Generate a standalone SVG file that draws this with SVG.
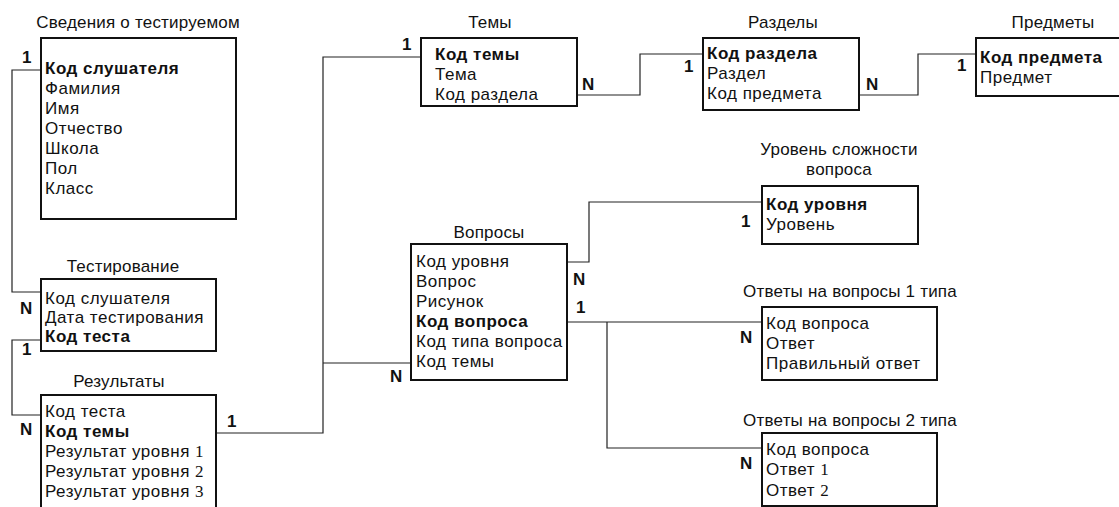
<svg xmlns="http://www.w3.org/2000/svg" width="1119" height="507" viewBox="0 0 1119 507">
<style>
.box{fill:#fff;stroke:#111;stroke-width:2}
.t{font-family:"Liberation Sans",Arial,sans-serif;font-size:17px;letter-spacing:0.5px;fill:#111}
.b{font-weight:bold}
.ttl{text-anchor:middle;letter-spacing:0.2px}
.c{fill:none;stroke:#222;stroke-width:1.2}
.card{font-family:"Liberation Sans",Arial,sans-serif;font-size:17px;font-weight:bold;fill:#111}
.sd{font-family:"Liberation Serif","Times New Roman",serif;letter-spacing:0}
</style>
<rect width="1119" height="507" fill="#fff"/>
<g id="connectors">
<polyline class="c" points="41,70 12,70 12,292 41,292"/>
<polyline class="c" points="41,340 12,340 12,415 41,415"/>
<polyline class="c" points="216,433 323,433 323,57 421,57"/>
<polyline class="c" points="323,363 411,363"/>
<polyline class="c" points="577,95 640,95 640,54 703,54"/>
<polyline class="c" points="859,95 918,95 918,54 976,54"/>
<polyline class="c" points="567,262 589,262 589,202 762,202"/>
<polyline class="c" points="567,322 762,322"/>
<polyline class="c" points="607,322 607,448 762,448"/>
<text class="card" x="22" y="63">1</text>
<text class="card" x="20" y="314">N</text>
<text class="card" x="22" y="355">1</text>
<text class="card" x="20" y="435">N</text>
<text class="card" x="227" y="427">1</text>
<text class="card" x="402" y="50">1</text>
<text class="card" x="582" y="90">N</text>
<text class="card" x="684" y="72">1</text>
<text class="card" x="866" y="90">N</text>
<text class="card" x="957" y="71">1</text>
<text class="card" x="390" y="382">N</text>
<text class="card" x="573" y="285">N</text>
<text class="card" x="576" y="313">1</text>
<text class="card" x="741" y="227">1</text>
<text class="card" x="740" y="343">N</text>
<text class="card" x="740" y="469">N</text>
</g>
<g id="svedeniya">
<text class="t ttl" x="138" y="28">Сведения о тестируемом</text>
<rect class="box" x="41" y="38" width="195" height="181"/>
<text class="t b" x="45" y="74">Код слушателя</text>
<text class="t" x="45" y="94">Фамилия</text>
<text class="t" x="45" y="114">Имя</text>
<text class="t" x="45" y="134">Отчество</text>
<text class="t" x="45" y="154">Школа</text>
<text class="t" x="45" y="174">Пол</text>
<text class="t" x="45" y="194">Класс</text>
</g>
<g id="testirovanie">
<text class="t ttl" x="123" y="272">Тестирование</text>
<rect class="box" x="41" y="279" width="175" height="72"/>
<text class="t" x="45" y="304">Код слушателя</text>
<text class="t" x="45" y="323">Дата тестирования</text>
<text class="t b" x="45" y="342">Код теста</text>
</g>
<g id="rezultaty">
<text class="t ttl" x="119" y="387">Результаты</text>
<rect class="box" x="41" y="395" width="175" height="130"/>
<text class="t" x="45" y="417">Код теста</text>
<text class="t b" x="45" y="437">Код темы</text>
<text class="t" x="45" y="457">Результат уровня <tspan class="sd">1</tspan></text>
<text class="t" x="45" y="477">Результат уровня <tspan class="sd">2</tspan></text>
<text class="t" x="45" y="497">Результат уровня <tspan class="sd">3</tspan></text>
</g>
<g id="temy">
<text class="t ttl" x="490" y="28">Темы</text>
<rect class="box" x="421" y="38" width="156" height="68"/>
<text class="t b" x="435" y="60">Код темы</text>
<text class="t" x="435" y="80">Тема</text>
<text class="t" x="435" y="100">Код раздела</text>
</g>
<g id="razdely">
<text class="t ttl" x="783" y="28">Разделы</text>
<rect class="box" x="703" y="38" width="156" height="72"/>
<text class="t b" x="707" y="59">Код раздела</text>
<text class="t" x="707" y="79">Раздел</text>
<text class="t" x="707" y="99">Код предмета</text>
</g>
<g id="predmety">
<text class="t ttl" x="1053" y="28">Предметы</text>
<rect class="box" x="976" y="38" width="160" height="58"/>
<text class="t b" x="980" y="63">Код предмета</text>
<text class="t" x="980" y="83">Предмет</text>
</g>
<g id="voprosy">
<text class="t ttl" x="489" y="238">Вопросы</text>
<rect class="box" x="411" y="244" width="156" height="136"/>
<text class="t" x="416" y="267">Код уровня</text>
<text class="t" x="416" y="287">Вопрос</text>
<text class="t" x="416" y="307">Рисунок</text>
<text class="t b" x="416" y="327">Код вопроса</text>
<text class="t" x="416" y="347">Код типа вопроса</text>
<text class="t" x="416" y="367">Код темы</text>
</g>
<g id="uroven">
<text class="t ttl" x="839" y="155">Уровень сложности</text>
<text class="t ttl" x="839" y="175">вопроса</text>
<rect class="box" x="762" y="186" width="156" height="58"/>
<text class="t b" x="766" y="210">Код уровня</text>
<text class="t" x="766" y="230">Уровень</text>
</g>
<g id="otvety1">
<text class="t ttl" x="850" y="297">Ответы на вопросы 1 типа</text>
<rect class="box" x="762" y="307" width="175" height="73"/>
<text class="t" x="766" y="329">Код вопроса</text>
<text class="t" x="766" y="349">Ответ</text>
<text class="t" x="766" y="369">Правильный ответ</text>
</g>
<g id="otvety2">
<text class="t ttl" x="850" y="426">Ответы на вопросы 2 типа</text>
<rect class="box" x="762" y="433" width="175" height="73"/>
<text class="t" x="766" y="455">Код вопроса</text>
<text class="t" x="766" y="475">Ответ <tspan class="sd">1</tspan></text>
<text class="t" x="766" y="496">Ответ <tspan class="sd">2</tspan></text>
</g>
</svg>
